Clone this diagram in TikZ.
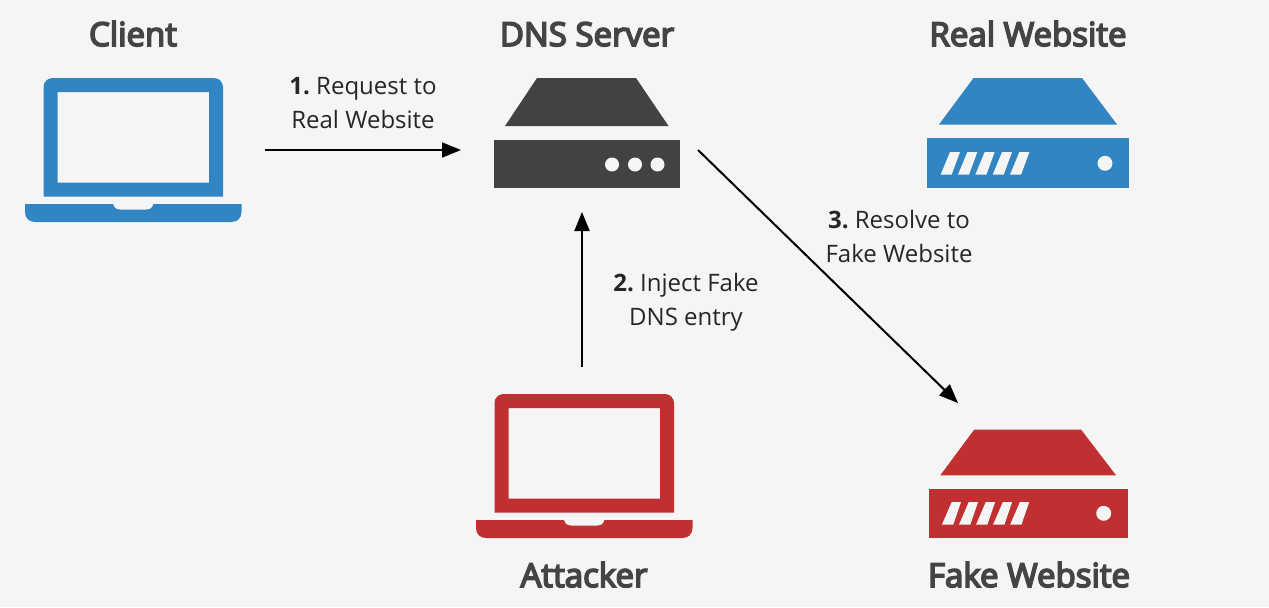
\documentclass[tikz,border=0pt]{standalone}
\usepackage{fontspec}
\setmainfont{Open Sans}
\newfontfamily\titlefont{Open Sans}[FakeBold=5]
\usetikzlibrary{arrows.meta}
\definecolor{bgc}{HTML}{F5F5F5}
\definecolor{bluec}{HTML}{3085C2}
\definecolor{redc}{HTML}{C03030}
\definecolor{darkc}{HTML}{424242}
\definecolor{titlec}{HTML}{444444}
\definecolor{textc}{HTML}{262626}
\newcommand{\laptopicon}[1]{%
  \fill[#1,even odd rule,rounded corners=6.75pt] (43.5,196.5) [sharp corners] -- (43.5,196.5) [rounded corners=6.75pt] -- (43.5,78) -- (223,78) [sharp corners] -- (223,196.5) -- cycle
    (57.5,92) [sharp corners] -- (209,92) -- (209,182.5) -- (57.5,182.5) -- cycle;
  \fill[#1] (25,204) -- (113,204) .. controls (114,207.5) and (116,209.5) .. (120,209.5) -- (146.5,209.5) .. controls (150.5,209.5) and (152.5,207.5) .. (153.5,204) -- (241.5,204) -- (241.5,212) .. controls (241.5,218) and (237.5,222) .. (231.5,222) -- (35,222) .. controls (29,222) and (25,218) .. (25,212) -- cycle;
}
\newcommand{\stepnum}[1]{\textbf{#1}\ }
\tikzset{
  anchorbox/.style={inner sep=0pt,outer sep=0pt,minimum width=#1},
  title/.style={font=\fontsize{24.75pt}{30pt}\selectfont\titlefont,text=titlec,anchor=base,inner sep=0pt},
  steplabel/.style={font=\fontsize{18pt}{25.2pt}\selectfont,text=textc,align=center,inner sep=0pt},
  conn/.style={draw=black,line width=1.5pt,-{Triangle[length=14.25pt,width=11.25pt]}},
  hole/.style={fill=bgc}
}
\begin{document}
\begin{tikzpicture}[x=0.75pt,y=-0.75pt]
\useasboundingbox (0,0) rectangle (1269,607);
\fill[bgc] (0,0) rectangle (1269,607);
% client
\laptopicon{bluec}
% attacker
\begin{scope}[shift={(451,316)}]
\laptopicon{redc}
\end{scope}
% DNS server
\fill[darkc] (537,78) -- (636,78) -- (668.5,126) -- (505,126) -- cycle;
\fill[darkc] (494.2,140) rectangle (679.5,188);
\foreach \cx in {612,635,657.5}{\fill[hole] (\cx,164.5) circle[radius=5.25pt];}
% real website
\fill[bluec] (973.5,78) -- (1082,78) -- (1117,124.5) -- (939,124.5) -- cycle;
\fill[bluec] (927,138) rectangle (1129,188);
\foreach \i in {0,...,4}{\fill[hole,shift={(17.35*\i,0)}] (950,152) -- (960,152) -- (951.7,174.5) -- (940.7,174.5) -- cycle;}
\fill[hole] (1105,163.3) circle[radius=5.6pt];
% fake website
\fill[redc] (974.3,429.5) -- (1081,429.5) -- (1116,475.3) -- (940.3,475.3) -- cycle;
\fill[redc] (928.5,488.5) rectangle (1127.5,538);
\foreach \i in {0,...,4}{\fill[hole,shift={(17.05*\i,0)}] (951.7,502) -- (961,502) -- (953.3,524.5) -- (942,524.5) -- cycle;}
\fill[hole] (1103.7,513.3) circle[radius=5.6pt];
% invisible anchors for the connectors
\node[anchorbox=198pt,minimum height=108pt] (client) at (133,150) {};
\node[anchorbox=177.75pt,minimum height=93pt] (dns) at (579.5,150) {};
\node[anchorbox=165pt,minimum height=129.75pt] (attacker) at (582,453.5) {};
\node[anchorbox=105pt,minimum height=120.75pt] (fake) at (1028,483.5) {};
% titles
\node[title] (tclient) at (133,46) {Client};
\node[title] (tdns) at (587,46) {DNS Server};
\node[title] (treal) at (1028,46) {Real Website};
\node[title] (tattacker) at (584,587) {Attacker};
\node[title] (tfake) at (1029,587) {Fake Website};
% labels
\node[steplabel] (l1) at (363,103) {\stepnum{1.}Request to\\Real Website};
\node[steplabel] (l2) at (686,302) {\stepnum{2.}Inject Fake\\DNS entry};
\node[steplabel] (l3) at (899,236.5) {\stepnum{3.}Resolve to\\Fake Website};
% connectors
\draw[conn] (client.east) -- (dns.west);
\draw[conn] (attacker.north) -- (attacker.north |- dns.south);
\draw[conn] (dns.east) -- (fake.north west);
\end{tikzpicture}
\end{document}
